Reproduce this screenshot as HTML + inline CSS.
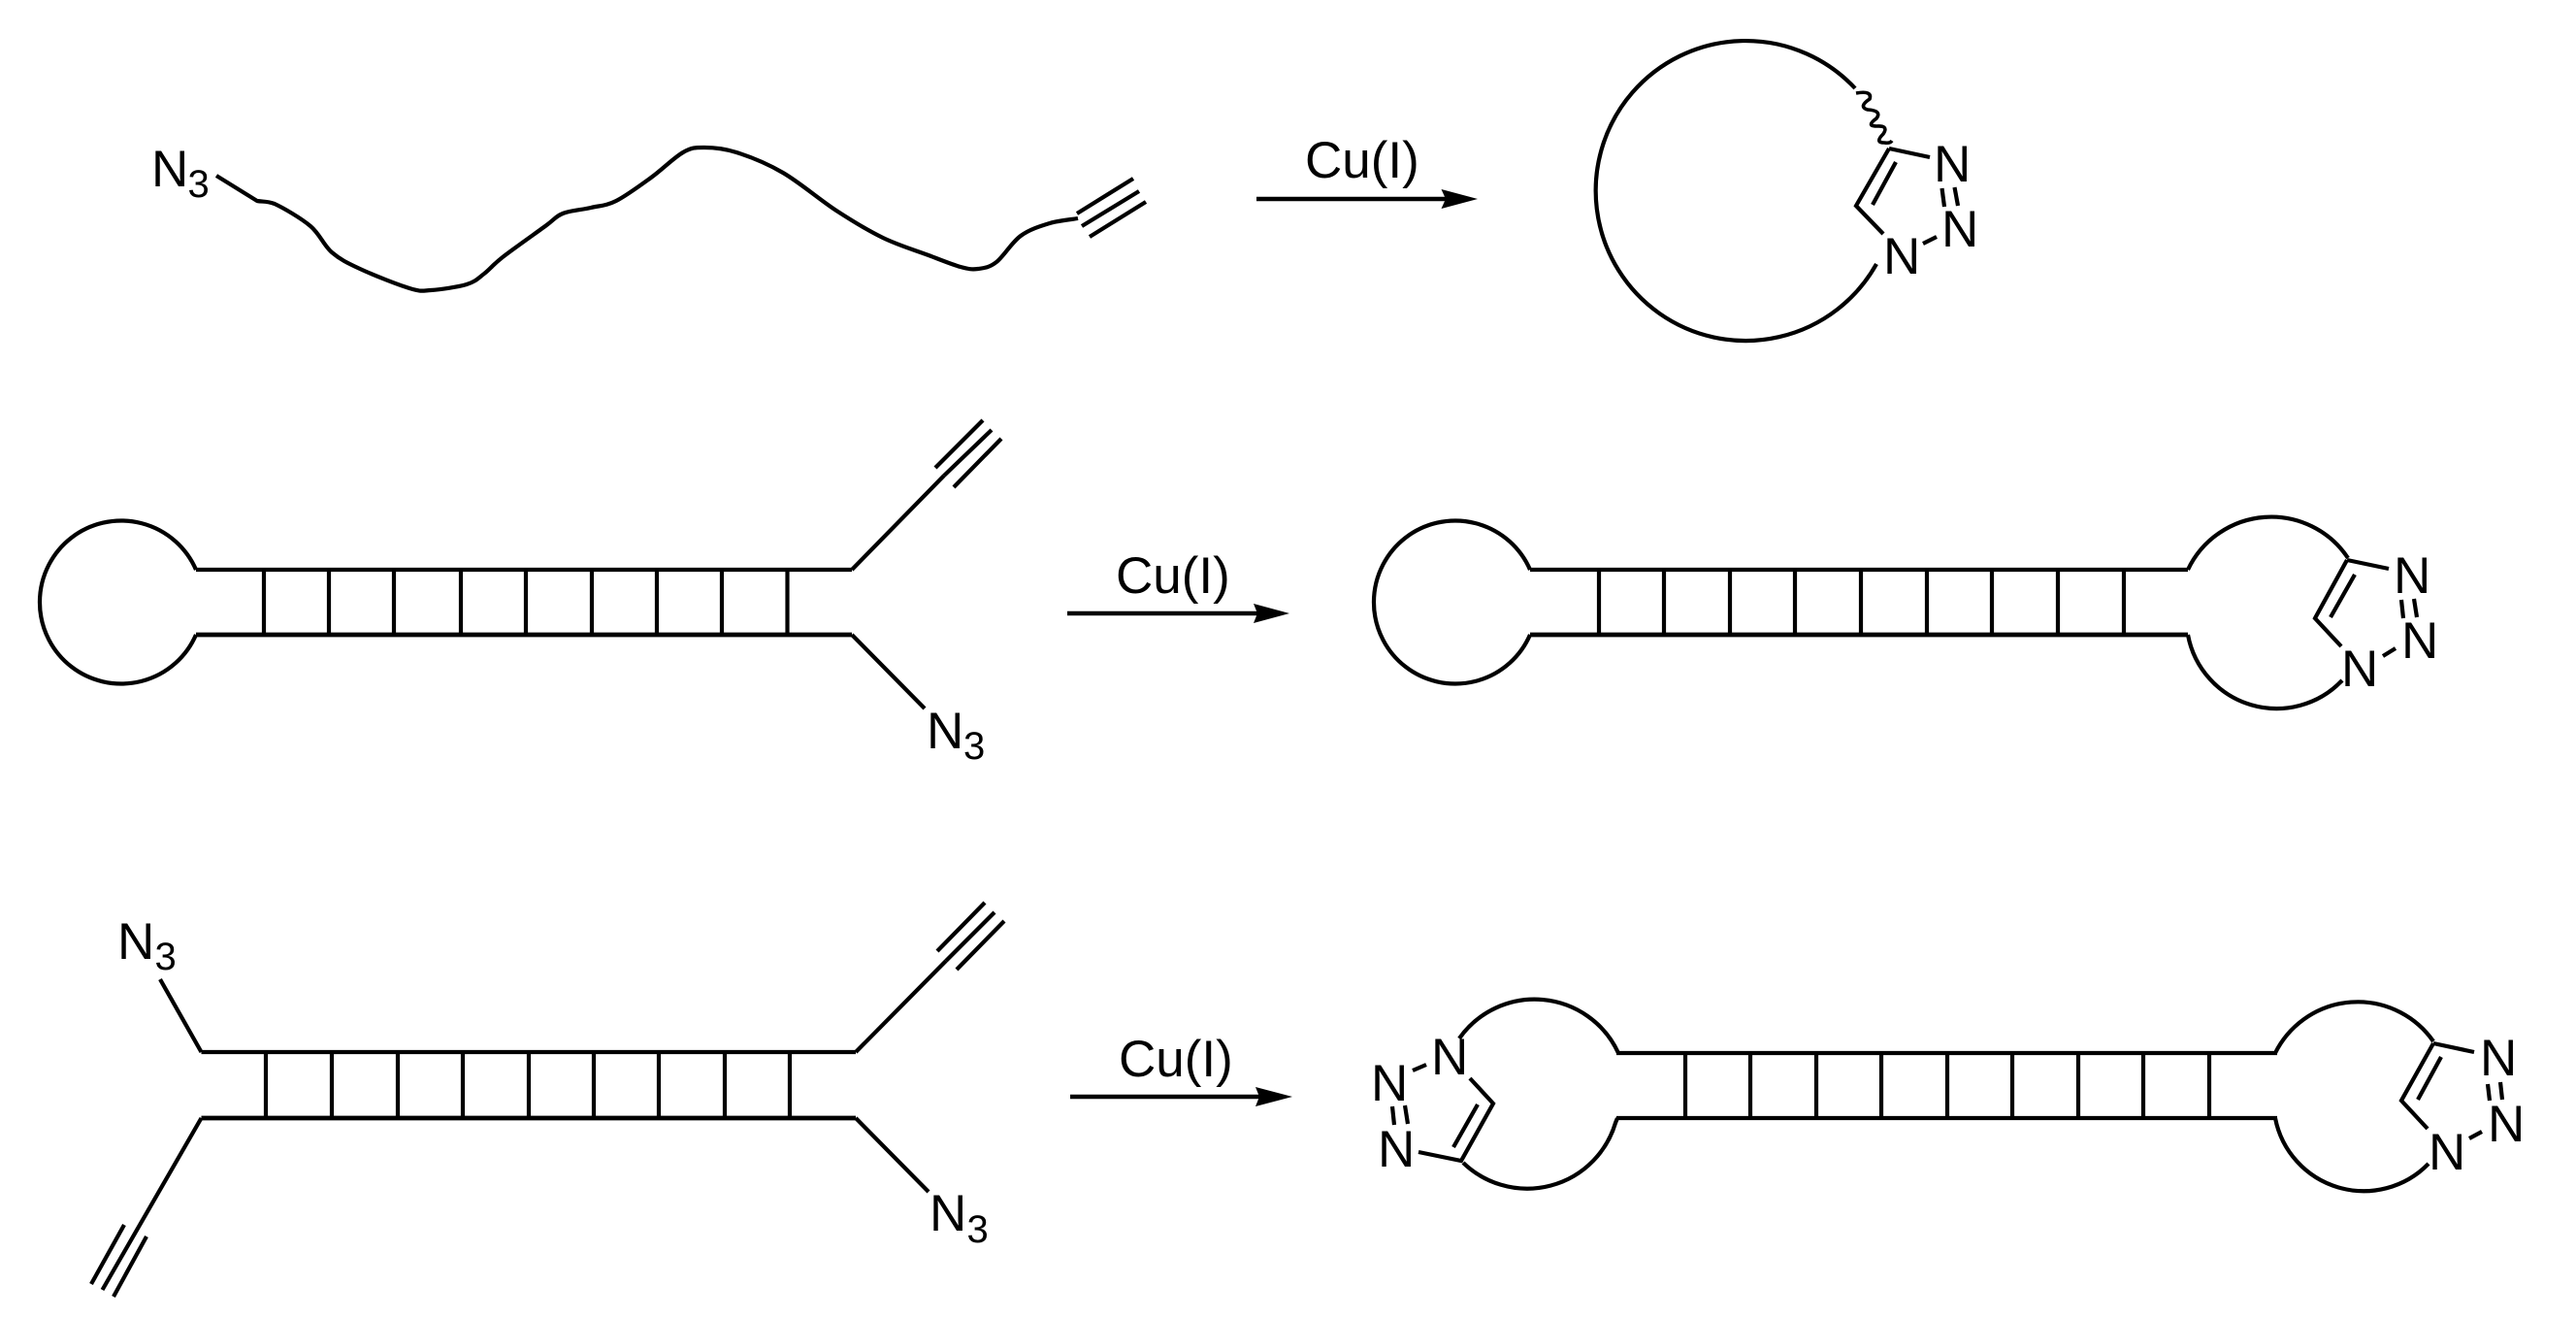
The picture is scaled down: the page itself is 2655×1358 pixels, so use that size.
<!DOCTYPE html>
<html>
<head>
<meta charset="utf-8">
<style>
html,body{margin:0;padding:0;background:#fff;}
svg{display:block;}
text{font-family:"Liberation Sans",sans-serif;fill:#000;}
.n{font-size:53px;}
.s{font-size:40px;}
path,line,polyline{fill:none;stroke:#000;stroke-width:4.2;}
.a{fill:#000;stroke:none;}
</style>
</head>
<body>
<svg width="2655" height="1358" viewBox="0 0 2655 1358" xmlns="http://www.w3.org/2000/svg">
<rect width="2655" height="1358" fill="#fff"/>

<!-- Row 1 left -->
<text class="n" x="156" y="192">N</text><text class="s" x="193.5" y="203">3</text>
<path stroke-linejoin="round" d="M223 181L265 207C271 208 275 207 283 210C292.2 214.3 310.2 224.7 320 233C329.8 241.3 333.5 252.7 342 260C350.5 267.3 357.7 270.8 371 277C384.3 283.2 409.8 293.3 422 297C434.2 300.7 434.2 299.7 444 299C453.8 298.3 471.8 295.8 481 293C490.2 290.2 492.8 286.7 499 282C505.2 277.3 507.5 273.2 518 265C528.5 256.8 551.7 240.5 562 233C572.3 225.5 572.2 223.2 580 220C587.8 216.8 599.8 216.2 609 214C618.2 211.8 624.7 212.2 635 207C645.3 201.8 659.5 191.3 671 183C682.5 174.7 694.8 162.2 704 157C713.2 151.8 716.8 152 726 152C735.2 152 745.5 152.7 759 157C772.5 161.3 789.8 168 807 178C824.2 188 844.8 205.8 862 217C879.2 228.2 894.2 237.3 910 245C925.8 252.7 943.7 258 957 263C970.3 268 981.5 272.7 990 275C998.5 277.3 1001.8 277.8 1008 277C1014.2 276.2 1019.7 275.7 1027 270C1034.3 264.3 1042.8 249.7 1052 243C1061.2 236.3 1072.2 233 1082 230C1091.8 227 1106 226 1111 225"/>
<line x1="1110" y1="220" x2="1168" y2="184"/>
<line x1="1115" y1="233" x2="1174" y2="197"/>
<line x1="1123" y1="244" x2="1181" y2="208"/>

<!-- Row 1 arrow -->
<text class="n" x="1345" y="183">Cu(I)</text>
<line x1="1295" y1="205" x2="1495" y2="205" style="stroke-width:4.5"/>
<polygon class="a" points="1523,205 1485.5,195 1490,205 1485.5,215"/>

<!-- Row 1 right -->
<path d="M1912 91A154.5 154.5 0 1 0 1934 272"/>
<path d="M1913 96Q1930 93 1927 102Q1915 110 1925 113Q1940 114 1934 122Q1923 130 1934 130Q1947 129 1941 138Q1932 147 1942 147Q1948 148 1950 145" style="stroke-width:3.6"/>
<line x1="1947" y1="153" x2="1989" y2="162"/>
<polyline stroke-linejoin="miter" points="1947,153 1913,212 1941,241"/>
<line x1="1954" y1="167" x2="1930" y2="211"/>
<line x1="2001.5" y1="194" x2="2004" y2="213"/>
<line x1="2014.5" y1="193" x2="2018" y2="212"/>
<line x1="1982" y1="251" x2="1996" y2="244"/>
<text class="n" x="1993" y="187">N</text>
<text class="n" x="2001" y="254">N</text>
<text class="n" x="1941" y="282">N</text>

<!-- Row 2 left -->
<path stroke-linejoin="miter" d="M202 587A84 84 0 1 0 202 654"/>
<line x1="202" y1="587" x2="878" y2="587"/>
<line x1="202" y1="654" x2="878" y2="654" style="stroke-width:4.8"/>
<line x1="272" y1="587" x2="272" y2="654"/>
<line x1="339" y1="587" x2="339" y2="654"/>
<line x1="406" y1="587" x2="406" y2="654"/>
<line x1="475" y1="587" x2="475" y2="654"/>
<line x1="542" y1="587" x2="542" y2="654"/>
<line x1="610" y1="587" x2="610" y2="654"/>
<line x1="677" y1="587" x2="677" y2="654"/>
<line x1="744" y1="587" x2="744" y2="654"/>
<line x1="811.5" y1="587" x2="811.5" y2="654"/>
<line x1="878" y1="587" x2="973" y2="490"/>
<line x1="964" y1="482" x2="1013" y2="433"/>
<line x1="973" y1="490" x2="1022" y2="443"/>
<line x1="983" y1="502" x2="1032" y2="452"/>
<line x1="878" y1="654" x2="953" y2="730"/>
<text class="n" x="955" y="771">N</text><text class="s" x="993" y="782">3</text>

<!-- Row 2 arrow -->
<text class="n" x="1150" y="611">Cu(I)</text>
<line x1="1100" y1="632" x2="1300" y2="632" style="stroke-width:4.5"/>
<polygon class="a" points="1329,632 1292,622 1296,632 1292,642"/>

<!-- Row 2 right -->
<path d="M1577 587A84 84 0 1 0 1577 654"/>
<line x1="1577" y1="587" x2="2255" y2="587"/>
<line x1="1577" y1="654" x2="2255" y2="654" style="stroke-width:4.8"/>
<line x1="1648" y1="587" x2="1648" y2="654"/>
<line x1="1715" y1="587" x2="1715" y2="654"/>
<line x1="1783" y1="587" x2="1783" y2="654"/>
<line x1="1850" y1="587" x2="1850" y2="654"/>
<line x1="1918" y1="587" x2="1918" y2="654"/>
<line x1="1986" y1="587" x2="1986" y2="654"/>
<line x1="2053" y1="587" x2="2053" y2="654"/>
<line x1="2121" y1="587" x2="2121" y2="654"/>
<line x1="2189" y1="587" x2="2189" y2="654"/>
<path d="M2255 587A95 95 0 0 1 2420 575"/>
<path d="M2255 654A93 93 0 0 0 2414 701"/>
<line x1="2419" y1="577" x2="2462" y2="586"/>
<polyline points="2419,577 2386,637 2413,666"/>
<line x1="2427" y1="592" x2="2402" y2="636"/>
<line x1="2475" y1="618" x2="2477" y2="637"/>
<line x1="2488" y1="617" x2="2491" y2="636"/>
<line x1="2456" y1="676" x2="2469" y2="668"/>
<text class="n" x="2467" y="611">N</text>
<text class="n" x="2475" y="678">N</text>
<text class="n" x="2413" y="707">N</text>

<!-- Row 3 left -->
<text class="n" x="121" y="988">N</text><text class="s" x="159.5" y="999">3</text>
<line x1="165" y1="1009" x2="207.5" y2="1084"/>
<line x1="207.5" y1="1084" x2="882" y2="1084"/>
<line x1="207.5" y1="1152" x2="882" y2="1152" style="stroke-width:4.8"/>
<line x1="274" y1="1084" x2="274" y2="1152"/>
<line x1="342" y1="1084" x2="342" y2="1152"/>
<line x1="410" y1="1084" x2="410" y2="1152"/>
<line x1="477" y1="1084" x2="477" y2="1152"/>
<line x1="545" y1="1084" x2="545" y2="1152"/>
<line x1="612" y1="1084" x2="612" y2="1152"/>
<line x1="679" y1="1084" x2="679" y2="1152"/>
<line x1="747" y1="1084" x2="747" y2="1152"/>
<line x1="814" y1="1084" x2="814" y2="1152"/>
<line x1="882" y1="1084" x2="975" y2="990"/>
<line x1="966" y1="980" x2="1015" y2="930"/>
<line x1="975" y1="990" x2="1025" y2="940"/>
<line x1="986" y1="999" x2="1035" y2="949"/>
<line x1="882" y1="1152" x2="957" y2="1228"/>
<text class="n" x="958" y="1268">N</text><text class="s" x="996.5" y="1280">3</text>
<line x1="207.5" y1="1152" x2="105.5" y2="1329"/>
<line x1="94" y1="1323" x2="128" y2="1262"/>
<line x1="117" y1="1336" x2="151" y2="1274"/>

<!-- Row 3 arrow -->
<text class="n" x="1153" y="1109">Cu(I)</text>
<line x1="1103" y1="1130" x2="1303" y2="1130" style="stroke-width:4.5"/>
<polygon class="a" points="1332,1130 1294,1120 1298,1130 1294,1140"/>

<!-- Row 3 right -->
<path d="M1668 1085A95 95 0 0 0 1504 1070"/>
<path d="M1667 1152L1665 1157A95 95 0 0 1 1508 1198"/>
<line x1="1666" y1="1085" x2="2347" y2="1085"/>
<line x1="1666" y1="1152" x2="2347" y2="1152"/>
<line x1="1737" y1="1085" x2="1737" y2="1152"/>
<line x1="1804" y1="1085" x2="1804" y2="1152"/>
<line x1="1872" y1="1085" x2="1872" y2="1152"/>
<line x1="1939" y1="1085" x2="1939" y2="1152"/>
<line x1="2007" y1="1085" x2="2007" y2="1152"/>
<line x1="2074" y1="1085" x2="2074" y2="1152"/>
<line x1="2142" y1="1085" x2="2142" y2="1152"/>
<line x1="2209" y1="1085" x2="2209" y2="1152"/>
<line x1="2277" y1="1085" x2="2277" y2="1152"/>
<path d="M1515 1111L1539 1137L1506 1196L1462 1187"/>
<line x1="1523" y1="1138" x2="1498" y2="1182"/>
<line x1="1456" y1="1103" x2="1470" y2="1097"/>
<line x1="1435" y1="1140" x2="1437" y2="1159"/>
<line x1="1448" y1="1139" x2="1451" y2="1158"/>
<text class="n" x="1475" y="1107">N</text>
<text class="n" x="1413" y="1134">N</text>
<text class="n" x="1420" y="1202">N</text>

<path d="M2345 1085A95 95 0 0 1 2508 1073"/>
<path d="M2345 1152A93 93 0 0 0 2503 1199"/>
<line x1="2508" y1="1075" x2="2550" y2="1084"/>
<polyline points="2508,1075 2475,1134 2502,1163"/>
<line x1="2516" y1="1089" x2="2492" y2="1133"/>
<line x1="2564" y1="1117" x2="2566" y2="1134"/>
<line x1="2577" y1="1115" x2="2579" y2="1133"/>
<line x1="2545" y1="1173" x2="2558" y2="1166"/>
<text class="n" x="2556" y="1108">N</text>
<text class="n" x="2564" y="1176">N</text>
<text class="n" x="2503" y="1205">N</text>
</svg>
</body>
</html>
